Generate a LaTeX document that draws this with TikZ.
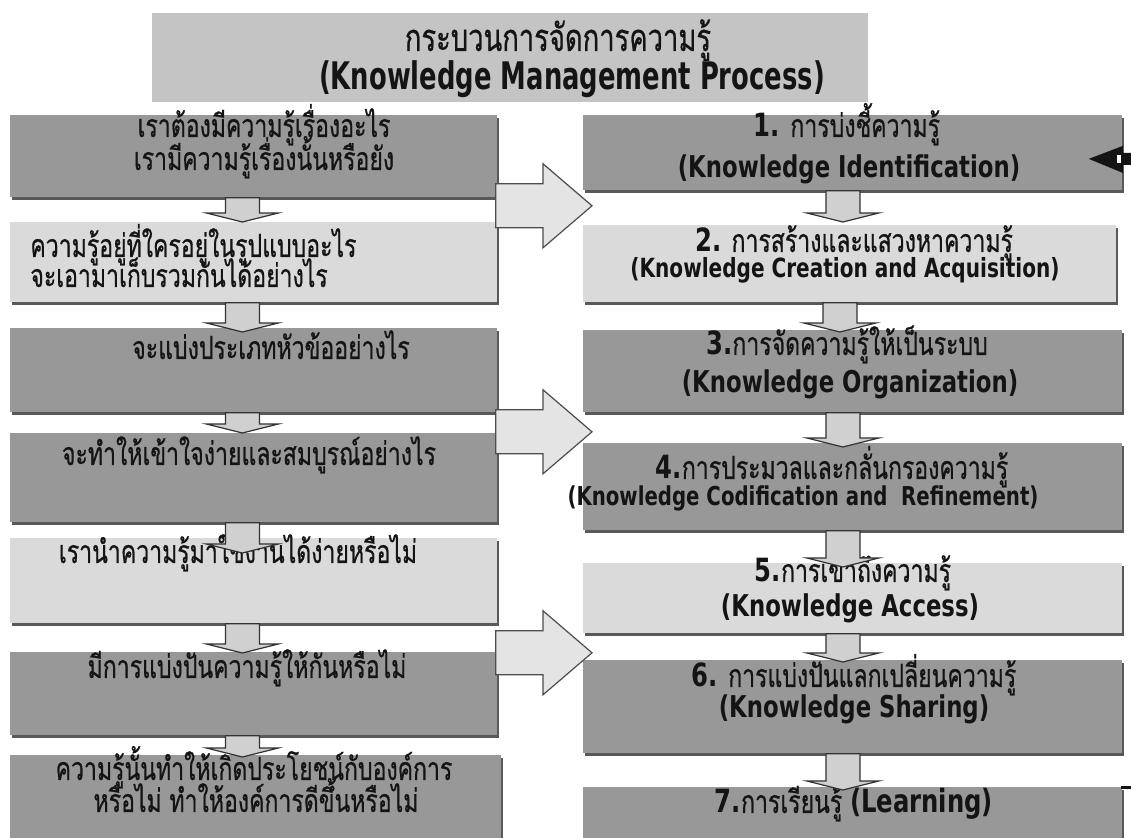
\documentclass[tikz,border=0pt]{standalone}
\usepackage{fontspec}
\usetikzlibrary{calc,shadows}
\newfontfamily\thfont{Loma}[Script=Thai,FakeStretch=0.72,FakeBold=0.6]
\newfontfamily\enfont{DejaVu Sans}[FakeStretch=0.76]
\newfontfamily\tlfont{DejaVu Sans}[FakeStretch=0.68]
\definecolor{boxdark}{RGB}{152,152,152}
\definecolor{boxlight}{RGB}{218,218,218}
\definecolor{titlegray}{RGB}{196,196,196}
\definecolor{arrfill}{RGB}{208,208,208}
\definecolor{bigfill}{RGB}{228,228,228}
\definecolor{inkdark}{RGB}{20,20,20}
\def\pxu{0.5pt}

\tikzset{
  kmbox/.style={rectangle, inner sep=0pt, anchor=north west,
    general shadow={fill=black!65, shadow xshift=1pt, shadow yshift=-1.5pt}},
  darkbox/.style={kmbox, fill=boxdark},
  lightbox/.style={kmbox, fill=boxlight},
  thline/.style={anchor=base, inner sep=0pt, text=inkdark, font=\thfont\fontsize{16}{18}\selectfont},
  enline/.style={anchor=base, inner sep=0pt, text=inkdark, font=\enfont\bfseries\fontsize{15}{17}\selectfont},
  smallarr/.style={fill=arrfill, draw=black!80, line width=0.6pt, line join=miter},
  bigarr/.style={fill=bigfill, draw=black!70, line width=0.6pt, line join=miter},
}

% small block arrow: upper box, lower box, x shift, tip overlap
\newcommand\kmdown[4]{%
  \coordinate (kt) at ($(#1.south)+(#3,0)$);
  \coordinate (kh) at ($(#2.north)+(0,#4)$);
  \draw[smallarr] ($(kt)+(-17,0)$) -- ($(kt)+(17,0)$) -- ($(kt |- kh)+(17,-9)$)
    -- ($(kt |- kh)+(36,-9)$) -- (kt |- kh) -- ($(kt |- kh)+(-36,-9)$)
    -- ($(kt |- kh)+(-17,-9)$) -- cycle;
}
% big block arrow: left box, right box, y offset
\newcommand\kmright[3]{%
  \coordinate (kb) at ($(#1.south east)+(-2,#3)$);
  \coordinate (ke) at ($(kb -| #2.west)+(9,0)$);
  \draw[bigarr] ($(kb)+(0,-22)$) -- ($(ke)+(-49,-22)$) -- ($(ke)+(-49,-42)$) -- (ke)
    -- ($(ke)+(-49,42)$) -- ($(ke)+(-49,22)$) -- ($(kb)+(0,22)$) -- cycle;
}

\begin{document}
\begin{tikzpicture}[x=0.5pt, y=-0.5pt]
\useasboundingbox (0,0) rectangle (1131,838);
\clip (0,0) rectangle (1131,838);
\fill[white] (0,0) rectangle (1131,838);

% title
\node[fill=titlegray, anchor=north west, minimum width=716*\pxu, minimum height=89*\pxu] (title) at (152,13) {};
\node[thline, font=\thfont\fontsize{19}{21}\selectfont] (titleth) at (558,51) {กระบวนการจัดการความรู้};
\node[enline, font=\tlfont\bfseries\fontsize{19}{21}\selectfont] (titleen) at (572,90) {(Knowledge Management Process)};

% left column
\node[darkbox, minimum width=487*\pxu, minimum height=82*\pxu] (L1) at (10,115) {};
\node[lightbox, minimum width=487*\pxu, minimum height=80*\pxu] (L2) at (10,222) {};
\node[darkbox, minimum width=487*\pxu, minimum height=84*\pxu] (L3) at (10,328) {};
\node[darkbox, minimum width=487*\pxu, minimum height=89*\pxu] (L4) at (10,433) {};
\node[lightbox, minimum width=487*\pxu, minimum height=85*\pxu] (L5) at (10,538) {};
\node[darkbox, minimum width=487*\pxu, minimum height=83*\pxu] (L6) at (10,652) {};
\node[darkbox, minimum width=491*\pxu, minimum height=95*\pxu] (L7) at (10,755) {};

% right column
\node[darkbox, minimum width=539*\pxu, minimum height=75*\pxu] (R1) at (583,115) {};
\node[lightbox, minimum width=533*\pxu, minimum height=77*\pxu] (R2) at (583,225) {};
\node[darkbox, minimum width=539*\pxu, minimum height=82*\pxu] (R3) at (583,330) {};
\node[darkbox, minimum width=539*\pxu, minimum height=87*\pxu] (R4) at (583,443) {};
\node[lightbox, minimum width=539*\pxu, minimum height=70*\pxu] (R5) at (583,563) {};
\node[darkbox, minimum width=539*\pxu, minimum height=93*\pxu] (R6) at (583,660) {};
\node[darkbox, minimum width=539*\pxu, minimum height=70*\pxu] (R7) at (583,787) {};

% left texts
\node[thline] (L1a) at (264,137) {เราต้องมีความรู้เรื่องอะไร};
\node[thline] (L1b) at (264,170) {เรามีความรู้เรื่องนั้นหรือยัง};
\node[thline, anchor=base west] (L2a) at (30,257) {ความรู้อยู่ที่ใครอยู่ในรูปแบบอะไร};
\node[thline, anchor=base west] (L2b) at (30,287) {จะเอามาเก็บรวมกันได้อย่างไร};
\node[thline] (L3a) at (271,359) {จะแบ่งประเภทหัวข้ออย่างไร};
\node[thline] (L4a) at (249,465) {จะทำให้เข้าใจง่ายและสมบูรณ์อย่างไร};
\node[thline] (L5a) at (238,563) {เรานำความรู้มาใช้งานได้ง่ายหรือไม่};
\node[thline] (L6a) at (247,678) {มีการแบ่งปันความรู้ให้กันหรือไม่};
\node[thline] (L7a) at (254,780) {ความรู้นั้นทำให้เกิดประโยชน์กับองค์การ};
\node[thline] (L7b) at (256,812) {หรือไม่ ทำให้องค์การดีขึ้นหรือไม่};

% right texts
\node[thline] (R1a) at (847,137) {{\enfont\bfseries 1.} การบ่งชี้ความรู้};
\node[enline] (R1b) at (849,178) {(Knowledge Identification)};
\node[thline] (R2a) at (854,252) {{\enfont\bfseries 2.} การสร้างและแสวงหาความรู้};
\node[enline, font=\enfont\bfseries\fontsize{13.2}{15}\selectfont] (R2b) at (845,278) {(Knowledge Creation and Acquisition)};
\node[thline] (R3a) at (847,355) {{\enfont\bfseries 3.}การจัดความรู้ให้เป็นระบบ};
\node[enline] (R3b) at (850,393) {(Knowledge Organization)};
\node[thline] (R4a) at (832,479) {{\enfont\bfseries 4.}การประมวลและกลั่นกรองความรู้};
\node[enline, font=\enfont\bfseries\fontsize{13}{15}\selectfont] (R4b) at (803,506) {(Knowledge Codification and\ \ Refinement)};
\node[thline] (R5a) at (853,582) {{\enfont\bfseries 5.}การเข้าถึงความรู้};
\node[enline] (R5b) at (850,617) {(Knowledge Access)};
\node[thline] (R6a) at (854,687) {{\enfont\bfseries 6.} การแบ่งปันแลกเปลี่ยนความรู้};
\node[enline] (R6b) at (854,718) {(Knowledge Sharing)};
\node[thline] (R7a) at (854,813) {{\enfont\bfseries 7.}การเรียนรู้ {\enfont\bfseries (Learning)}};

% arrows down
\kmdown{L1}{L2}{-11.5}{0}
\kmdown{L2}{L3}{-11.5}{4}
\kmdown{L3}{L4}{-11.5}{0}
\kmdown{L4}{L5}{-11.5}{15}
\kmdown{L5}{L6}{-11.5}{1}
\kmdown{L6}{L7}{-11.5}{2}
\kmdown{R1}{R2}{-10}{-3}
\kmdown{R2}{R3}{-10}{2}
\kmdown{R3}{R4}{-10}{4}
\kmdown{R4}{R5}{-10}{4}
\kmdown{R5}{R6}{-10}{2}
\kmdown{R6}{R7}{-10}{3}

% arrows across
\kmright{L1}{R1}{8}
\kmright{L3}{R3}{19}
\kmright{L5}{R5}{29}

% marks at the right edge
\coordinate (kr) at ($(R1.east)+(0,6)$);
\fill[inkdark] ($(kr)+(-34,0)$) -- ($(kr)+(0,-13)$) -- ($(kr)+(0,-6)$) -- ($(kr)+(12,-6)$)
  -- ($(kr)+(12,6)$) -- ($(kr)+(0,6)$) -- ($(kr)+(0,14)$) -- cycle;
\fill[white] ($(kr)+(-6,-4)$) rectangle ($(kr)+(-2,4)$);
\draw[inkdark, line width=1.5pt] ($(R7.north east)+(-2,1)$) -- ++(15,0);
\end{tikzpicture}
\end{document}
